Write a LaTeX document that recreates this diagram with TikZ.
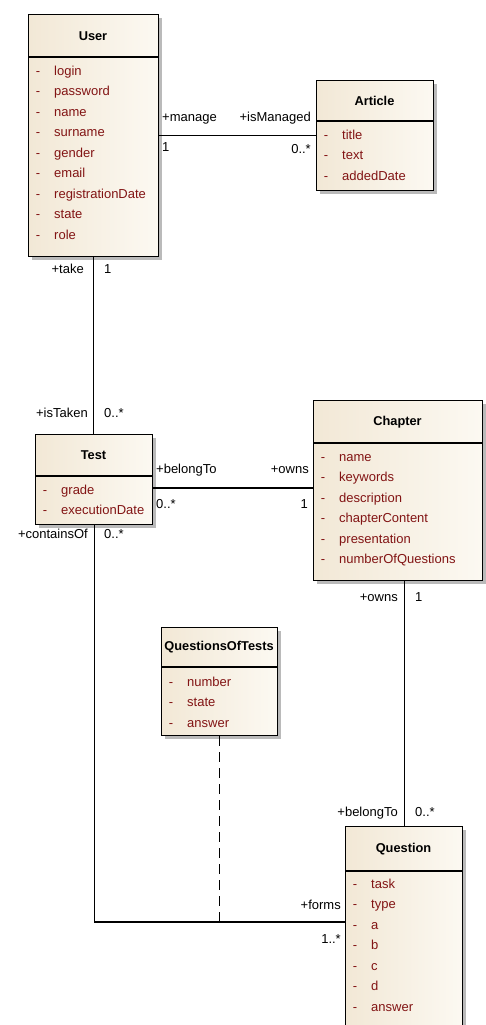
\documentclass[tikz,border=0pt]{standalone}
\usepackage{fontspec}
\setmainfont{Liberation Sans}
\usetikzlibrary{shadows,calc}
\definecolor{attr}{RGB}{130,20,20}
\definecolor{fillA}{RGB}{242,232,214}
\definecolor{fillB}{RGB}{252,249,242}
\tikzset{
  cls/.style={draw=black, line width=1.4pt, rectangle, inner sep=0pt, anchor=north west,
    left color=fillA, right color=fillB,
    drop shadow={shadow xshift=3.5pt, shadow yshift=-3.5pt, fill=black!45, opacity=0.6}},
  divider/.style={line width=1.4pt},
  ctitle/.style={font=\fontsize{12.8}{14}\selectfont\bfseries, inner sep=0pt},
  attrdash/.style={text=attr, inner sep=0pt, text height=9pt, text depth=2.5pt},
  attrtext/.style={text=attr, inner sep=0pt, anchor=west, text height=9pt, text depth=2.5pt},
  lab/.style={inner sep=0pt, text height=9pt, text depth=2.5pt},
  conn/.style={line width=1.3pt},
  dconn/.style={line width=1.3pt, dash pattern=on 10pt off 6pt},
}
\newcommand\attrlist[4]{%
  \foreach \t [count=\i] in {#4} {%
    \node[attrdash] (#1d\i) at ({#2+10},{#3+20.5*(\i-1)}) {-};
    \node[attrtext] (#1a\i) at ({#2+26},{#3+20.5*(\i-1)}) {\t};
  }%
}
\begin{document}
\begin{tikzpicture}[x=1pt,y=-1pt,font=\fontsize{13}{15}\selectfont]
\useasboundingbox (0,0) rectangle (486,1025);
\clip (0,0) rectangle (486,1025);

% User
\node[cls, minimum width=130pt, minimum height=242pt] (user) at (28,14) {};
\draw[divider] (28,57) -- (158,57);
\node[ctitle] (userT) at (93,36) {User};
\attrlist{u}{28}{72}{login,password,name,surname,gender,email,registrationDate,state,role}

% Article
\node[cls, minimum width=117pt, minimum height=110pt] (article) at (316,80) {};
\draw[divider] (316,121) -- (433,121);
\node[ctitle] (articleT) at (374.5,101) {Article};
\attrlist{ar}{316}{136}{title,text,addedDate}

% Test
\node[cls, minimum width=117pt, minimum height=90pt] (test) at (35,434) {};
\draw[divider] (35,476) -- (152,476);
\node[ctitle] (testT) at (93.5,455) {Test};
\attrlist{t}{35}{491}{grade,executionDate}

% Chapter
\node[cls, minimum width=169pt, minimum height=180pt] (chapter) at (313,400) {};
\draw[divider] (313,443) -- (482,443);
\node[ctitle] (chapterT) at (397.5,422) {Chapter};
\attrlist{c}{313}{458}{name,keywords,description,chapterContent,presentation,numberOfQuestions}

% QuestionsOfTests
\node[cls, minimum width=116pt, minimum height=108pt] (qot) at (161,627) {};
\draw[divider] (161,667) -- (277,667);
\node[ctitle] (qotT) at (219,647) {QuestionsOfTests};
\attrlist{q}{161}{683}{number,state,answer}

% Question
\node[cls, minimum width=117pt, minimum height=230pt] (question) at (345,826) {};
\draw[divider] (345,871) -- (462,871);
\node[ctitle] (questionT) at (403.5,849) {Question};
\attrlist{qq}{345}{885}{task,type,a,b,c,d,answer}

% connectors
\coordinate (join) at ($(question.north west)+(0,96)$);
\coordinate (tc) at ($(test.north east)+(0,54)$);
\draw[conn] (user.east) -- (article.west);
\draw[conn] (user.south) -- (user.south |- test.north);
\draw[conn] (tc) -- (tc -| chapter.west);
\draw[conn] (question.north) -- (question.north |- chapter.south);
\draw[conn] (test.south) |- (join);
\draw[dconn] (qot.south) -- (qot.south |- join);

% labels
\node[lab, anchor=west] (l1) at (162,118) {+manage};
\node[lab, anchor=west] (l2) at (162,148) {1};
\node[lab, anchor=east] (l3) at (311,118) {+isManaged};
\node[lab, anchor=east] (l4) at (311,150) {0..*};
\node[lab, anchor=east] (l5) at (84,270) {+take};
\node[lab, anchor=west] (l6) at (104,270) {1};
\node[lab, anchor=east] (l7) at (88,414) {+isTaken};
\node[lab, anchor=west] (l8) at (104,414) {0..*};
\node[lab, anchor=west] (l9) at (156,470) {+belongTo};
\node[lab, anchor=west] (l10) at (156,505) {0..*};
\node[lab, anchor=east] (l11) at (309,470) {+owns};
\node[lab, anchor=east] (l12) at (308,505) {1};
\node[lab, anchor=east] (l13) at (88,535) {+containsOf};
\node[lab, anchor=west] (l14) at (104,535) {0..*};
\node[lab, anchor=east] (l15) at (398,598) {+owns};
\node[lab, anchor=west] (l16) at (415,598) {1};
\node[lab, anchor=east] (l17) at (398,813) {+belongTo};
\node[lab, anchor=west] (l18) at (415,813) {0..*};
\node[lab, anchor=east] (l19) at (341,906) {+forms};
\node[lab, anchor=east] (l20) at (341,940) {1..*};
\end{tikzpicture}
\end{document}
